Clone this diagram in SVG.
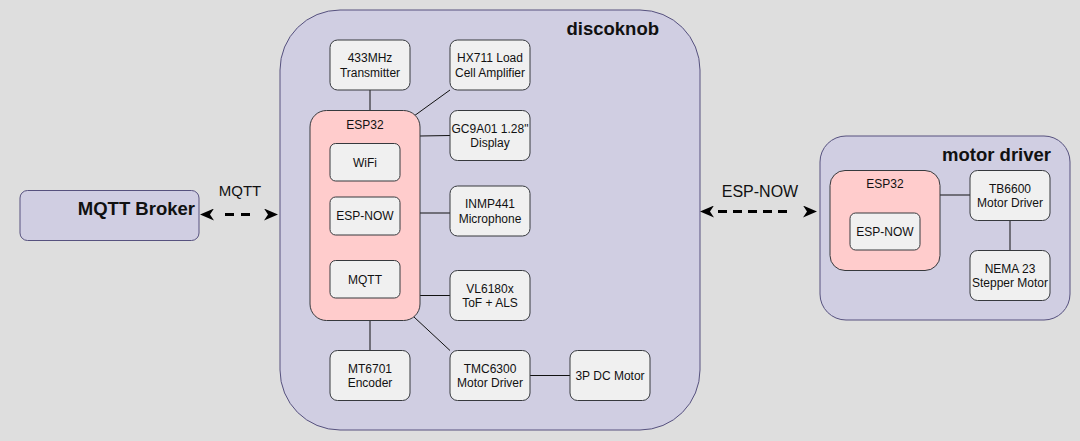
<svg xmlns="http://www.w3.org/2000/svg" width="1080" height="441" viewBox="0 0 1080 441">
<style>
.bg{fill:#dedede}
.cont{fill:#d0cee2;stroke:#56517e;stroke-width:1}
.node{fill:#f0f0f0;stroke:#36393d;stroke-width:1}
.esp{fill:#ffcccc;stroke:#36393d;stroke-width:1}
text{font-family:"Liberation Sans",Arial,Helvetica,sans-serif;fill:#111;text-anchor:middle;font-size:12px}
.title{font-weight:bold;font-size:18.5px;text-anchor:end}
.lbl{font-size:15px}
.wire{stroke:#111;stroke-width:1;fill:none}
.link{stroke:#000;stroke-width:3;fill:none}
</style>
<defs>
<marker id="arr" markerUnits="userSpaceOnUse" viewBox="0 0 14 12" markerWidth="14" markerHeight="12" refX="4" refY="6" orient="auto-start-reverse">
<path d="M0,0 L14,6 L0,12 L4,6 Z" fill="#000"/>
</marker>
</defs>
<rect class="bg" x="0" y="0" width="1080" height="441"/>

<g id="mqtt-broker">
<rect class="cont" x="20" y="190.5" width="179" height="50" rx="7.5"/>
<text class="title" x="195" y="215">MQTT Broker</text>
</g>

<g id="discoknob">
<rect class="cont" x="280" y="10" width="420" height="420" rx="60"/>
<text class="title" x="659" y="35">discoknob</text>
</g>

<g id="motor-driver">
<rect class="cont" x="820" y="136" width="250" height="184" rx="26"/>
<text class="title" x="1051" y="161">motor driver</text>
</g>

<g id="connectors">
<line class="wire" x1="370" y1="90" x2="370" y2="110.5"/>
<line class="wire" x1="450" y1="90" x2="414" y2="116"/>
<line class="wire" x1="420" y1="136" x2="450" y2="135.5"/>
<line class="wire" x1="420" y1="213" x2="450" y2="213"/>
<line class="wire" x1="420" y1="295.5" x2="450" y2="295.5"/>
<line class="wire" x1="370" y1="320.5" x2="370" y2="350"/>
<line class="wire" x1="414" y1="317" x2="450" y2="350.5"/>
<line class="wire" x1="530" y1="375.5" x2="570" y2="375.5"/>
<line class="wire" x1="940" y1="195" x2="970" y2="195"/>
<line class="wire" x1="1010" y1="220" x2="1010" y2="250"/>
<line class="link" x1="210" y1="214.5" x2="268" y2="214.5" stroke-dasharray="0 15 9 7 9 18" marker-start="url(#arr)" marker-end="url(#arr)"/>
<line class="link" x1="710" y1="211.5" x2="807" y2="211.5" stroke-dasharray="0 8 9 6 9 6 9 6 9 6 9 20" marker-start="url(#arr)" marker-end="url(#arr)"/>
<text class="lbl" x="240" y="196">MQTT</text>
<text class="lbl" x="760" y="197" style="font-size:16px">ESP-NOW</text>
</g>

<g id="transmitter">
<rect class="node" x="330" y="40" width="80" height="50" rx="7.5"/>
<text x="370" y="62">433MHz</text>
<text x="370" y="76.5">Transmitter</text>
</g>
<g id="hx711">
<rect class="node" x="450" y="40" width="80" height="50" rx="7.5"/>
<text x="490" y="62">HX711 Load</text>
<text x="490" y="76.5">Cell Amplifier</text>
</g>
<g id="esp32-knob">
<rect class="esp" x="310" y="110.5" width="110" height="210" rx="16.5"/>
<text x="365" y="129">ESP32</text>
</g>
<g id="wifi">
<rect class="node" x="330" y="143.5" width="70" height="37.5" rx="5.6"/>
<text x="365" y="166.5">WiFi</text>
</g>
<g id="espnow-knob">
<rect class="node" x="330" y="197" width="70" height="38" rx="5.6"/>
<text x="365" y="220">ESP-NOW</text>
</g>
<g id="mqtt-knob">
<rect class="node" x="330" y="260.5" width="70" height="37.5" rx="5.6"/>
<text x="365" y="283.5">MQTT</text>
</g>
<g id="display">
<rect class="node" x="450" y="110.5" width="80" height="50" rx="7.5"/>
<text x="490" y="132.5">GC9A01 1.28"</text>
<text x="490" y="147">Display</text>
</g>
<g id="microphone">
<rect class="node" x="450" y="186" width="80" height="50" rx="7.5"/>
<text x="490" y="208">INMP441</text>
<text x="490" y="222.5">Microphone</text>
</g>
<g id="tof">
<rect class="node" x="450" y="270.5" width="80" height="50" rx="7.5"/>
<text x="490" y="292.5">VL6180x</text>
<text x="490" y="307">ToF + ALS</text>
</g>
<g id="encoder">
<rect class="node" x="330" y="350.5" width="80" height="50" rx="7.5"/>
<text x="370" y="372.5">MT6701</text>
<text x="370" y="387">Encoder</text>
</g>
<g id="tmc6300">
<rect class="node" x="450" y="350.5" width="80" height="50" rx="7.5"/>
<text x="490" y="372.5">TMC6300</text>
<text x="490" y="387">Motor Driver</text>
</g>
<g id="dc-motor">
<rect class="node" x="570" y="350.5" width="80" height="50" rx="7.5"/>
<text x="610" y="379.5">3P DC Motor</text>
</g>

<g id="esp32-motor">
<rect class="esp" x="830" y="170.5" width="110" height="100" rx="15"/>
<text x="885" y="188">ESP32</text>
</g>
<g id="espnow-motor">
<rect class="node" x="850" y="213" width="70" height="37" rx="5.6"/>
<text x="885" y="235.5">ESP-NOW</text>
</g>
<g id="tb6600">
<rect class="node" x="970" y="170.5" width="80" height="50" rx="7.5"/>
<text x="1010" y="192.5">TB6600</text>
<text x="1010" y="207">Motor Driver</text>
</g>
<g id="nema23">
<rect class="node" x="970" y="250.5" width="80" height="50" rx="7.5"/>
<text x="1010" y="272.5">NEMA 23</text>
<text x="1010" y="287">Stepper Motor</text>
</g>
</svg>
